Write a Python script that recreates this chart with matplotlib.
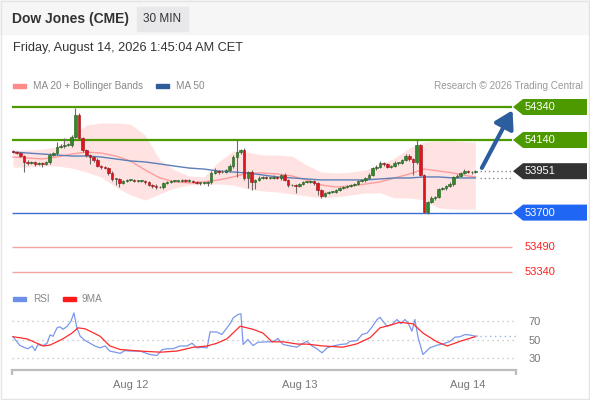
import matplotlib
matplotlib.use("Agg")
import matplotlib.pyplot as plt
from matplotlib.patches import Rectangle, Polygon, FancyArrowPatch

plt.rcParams['font.family'] = ['Liberation Sans', 'DejaVu Sans']

# --- data (30 min candles, Dow Jones CME) ---
first_open = 54073
closes = [
    54067, 54061, 54043, 54007, 54001, 54007, 53995, 54001, 53995, 54007,
    54049, 54061, 54098, 54104, 54110, 54110, 54158, 54292, 54152, 54079,
    54049, 54037, 54019, 53982, 53976, 53970, 53940, 53904, 53904, 53880,
    53892, 53898, 53898, 53892, 53892, 53892, 53886, 53867, 53861, 53855,
    53855, 53880, 53886, 53892, 53892, 53892, 53898, 53892, 53892, 53886,
    53880, 53880, 53880, 53886, 53940, 53952, 53946, 53946, 53958, 53982,
    54037, 54067, 54079, 53910, 53946, 53886, 53898, 53910, 53916, 53910,
    53910, 53916, 53910, 53928, 53898, 53867, 53867, 53861, 53873, 53886,
    53886, 53892, 53880, 53837, 53801, 53819, 53825, 53825, 53837, 53849,
    53855, 53861, 53867, 53873, 53892, 53898, 53910, 53928, 53970, 53976,
    54001, 53995, 53976, 53982, 54001, 54001, 54019, 54043, 54025, 54007,
    54110, 53928, 53704, 53764, 53789, 53795, 53843, 53849, 53861, 53873,
    53916, 53922, 53940, 53952, 53946, 53946, 53951,
]
wick_up = [
    8, 6, 8, 6, 10, 8, 6, 8, 6, 8,
    10, 8, 30, 12, 40, 10, 12, 42, 10, 8,
    8, 6, 8, 10, 6, 8, 8, 10, 6, 8,
    6, 8, 6, 8, 6, 8, 6, 8, 6, 10,
    6, 8, 6, 8, 6, 8, 6, 8, 10, 6,
    8, 6, 8, 6, 12, 20, 8, 12, 8, 10,
    10, 79, 8, 10, 8, 10, 8, 10, 6, 8,
    6, 10, 6, 8, 10, 6, 8, 6, 8, 6,
    8, 6, 8, 6, 8, 6, 8, 6, 8, 6,
    8, 6, 8, 6, 8, 6, 8, 10, 8, 12,
    10, 8, 8, 6, 10, 8, 8, 12, 10, 8,
    36, 8, 6, 8, 10, 6, 8, 6, 8, 10,
    8, 10, 8, 10, 8, 6, 6,
]
wick_dn = [
    8, 6, 8, 60, 12, 8, 10, 8, 20, 8,
    12, 8, 10, 8, 10, 8, 10, 8, 10, 12,
    10, 40, 12, 8, 10, 8, 10, 12, 36, 25,
    8, 6, 8, 6, 8, 6, 10, 8, 12, 10,
    8, 10, 6, 8, 6, 8, 6, 8, 6, 8,
    8, 10, 8, 20, 10, 8, 10, 8, 6, 10,
    12, 120, 10, 10, 60, 50, 40, 8, 6, 8,
    8, 6, 8, 10, 8, 10, 8, 40, 8, 6,
    8, 6, 10, 30, 10, 8, 6, 8, 6, 8,
    6, 8, 6, 8, 6, 8, 10, 6, 8, 10,
    8, 10, 8, 6, 8, 10, 8, 8, 10, 78,
    10, 8, 5, 10, 8, 10, 8, 8, 10, 8,
    10, 8, 8, 6, 8, 10, 6,
]

# indicators sampled every 4 candles
band_idx = [0, 4, 8, 12, 16, 20, 24, 28, 32, 36, 40, 44, 48, 52, 56, 60,
            64, 68, 72, 76, 80, 84, 88, 92, 96, 100, 104, 108, 112, 116,
            120, 124, 126]
bb_upper = [54079, 54079, 54085, 54098, 54170, 54231, 54243, 54243, 54237,
            54170, 54019, 53958, 53922, 53916, 54007, 54073, 54067, 54049,
            54049, 54043, 53988, 53946, 53940, 53946, 53958, 53988, 54031,
            54092, 54128, 54134, 54134, 54128, 54128]
bb_lower = [53976, 53976, 53982, 53982, 53970, 53946, 53916, 53855, 53807,
            53776, 53813, 53849, 53867, 53873, 53873, 53867, 53843, 53831,
            53825, 53813, 53801, 53789, 53795, 53807, 53819, 53819, 53789,
            53789, 53776, 53728, 53722, 53722, 53722]
ma20 = [54037, 54031, 54025, 54037, 54055, 54067, 54061, 54043, 54013, 53958,
        53910, 53886, 53880, 53886, 53898, 53916, 53940, 53940, 53934, 53922,
        53898, 53867, 53855, 53861, 53873, 53886, 53910, 53934, 53964, 53952,
        53940, 53922, 53916]
ma50 = [54067, 54061, 54055, 54049, 54043, 54043, 54037, 54025, 54013, 54007,
        53995, 53982, 53970, 53964, 53952, 53946, 53940, 53928, 53916, 53910,
        53904, 53898, 53898, 53898, 53898, 53904, 53910, 53910, 53916, 53916,
        53910, 53910, 53910]

resistances = [54340, 54140]
pivot = 53700
supports = [53490, 53340]
last_price = 53951

rsi_pts = [(0, 53), (1.9, 43.5), (3.3, 41), (4.1, 40), (5.2, 43), (6, 38),
           (6.8, 44.6), (8.2, 43.5), (9.3, 46), (10.1, 55), (10.9, 53.5),
           (12, 62.6), (12.8, 63.7), (13.6, 61), (14.7, 64), (15.8, 69.8),
           (16.6, 78.8), (17.4, 62.6), (18.3, 53.6), (19.6, 49), (21, 46),
           (22.3, 43), (23.7, 41), (25.1, 43), (26.4, 37.4), (27.8, 36.3),
           (29.2, 35), (30.5, 38), (31.9, 37.5), (34.6, 37.5), (36, 35.6),
           (37.3, 33.8), (39.2, 32.7), (40.6, 39), (42, 40), (43.6, 40),
           (45.5, 43), (47.4, 43), (48.8, 46), (50.1, 41), (51.5, 41.5),
           (52.9, 41), (53.7, 58.3), (55.6, 58), (56.9, 55.4), (58.3, 62.6),
           (59.3, 68), (60, 73.4), (61.3, 77), (62.1, 77.8), (62.7, 44.6),
           (64, 50), (65.4, 43.5), (66.8, 47), (69.2, 47.5), (70.8, 47.5),
           (72.2, 51), (73.6, 44.6), (75.5, 43), (77.4, 41.7), (78.7, 45.3),
           (80.1, 48), (81.5, 43), (82.8, 40), (84.2, 35.6), (85.6, 41),
           (87.2, 43), (89.1, 44.6), (91, 45.3), (91.8, 48), (93.7, 48.8),
           (95.1, 55.4), (96.5, 57), (97.8, 63.3), (99.2, 71.6), (100, 74),
           (100.8, 69.8), (101.9, 64.4), (103.3, 66.2), (104.6, 71.6),
           (105.7, 67), (106.8, 71.6), (107.6, 68), (108.7, 59), (109.5, 71.6),
           (110.4, 51.8), (111.7, 33.8), (113.6, 41), (115.5, 43.8),
           (117.2, 45.3), (119.1, 48), (120.4, 52.5), (121.8, 53),
           (123.2, 55.4), (124.5, 54.8), (126, 53.6)]
ma9_pts = [(0, 53), (3.8, 50.7), (8.2, 43), (10.1, 44), (13.6, 50.7),
           (16.1, 57), (17.7, 62.6), (19.6, 61.6), (21.5, 58), (23.7, 53.6),
           (26.4, 43), (29.2, 39.2), (34.6, 37.5), (40.1, 36.3), (44.7, 37.5),
           (49, 41.5), (52.9, 43), (55.6, 46), (58.3, 50.7), (61.9, 64.4),
           (65.4, 61), (68.1, 57), (70.6, 47.5), (73.6, 47.5), (77.6, 45),
           (80.1, 45), (84.5, 43), (89.9, 41.7), (93.7, 45.3), (97.3, 52),
           (100, 62.6), (102.7, 65.4), (105.4, 68.6), (109, 67), (111.7, 57),
           (115.5, 47.5), (118.3, 43), (121.8, 48), (126.4, 53.6)]

day_ticks = [32, 78, 124]
day_labels = ['Aug 12', 'Aug 13', 'Aug 14']
rsi_levels = [70, 50, 30]

# --- layout helpers (pixels of a 590x400 picture) ---
W, H = 590, 400
def fx(x): return x / W
def fy(y): return 1 - y / H

fig = plt.figure(figsize=(5.9, 4.0), dpi=100)
fig.patch.set_facecolor('white')
fig.patches.append(Rectangle((0, fy(34)), 1, 34 / H, transform=fig.transFigure,
                             color='#f6f6f6', zorder=0))
fig.patches.append(Rectangle((0.001, 0.002), 0.997, 0.996, transform=fig.transFigure,
                             fill=False, edgecolor='#e4e4e4', lw=1, zorder=0))
fig.patches.append(Rectangle((fx(137), fy(31)), fx(51), 24 / H, transform=fig.transFigure,
                             color='#e8e8ea', zorder=1))

fig.text(fx(12), fy(19), 'Dow Jones (CME)', fontsize=10, fontweight='bold',
         color='#333333', va='center')
fig.text(fx(162.5), fy(19), '30 MIN', fontsize=8.5, color='#333333',
         ha='center', va='center')
fig.text(fx(13), fy(48), 'Friday, August 14, 2026 1:45:04 AM CET', fontsize=9.2,
         color='#333333', va='center')

# legends
fig.patches.append(Rectangle((fx(13), fy(88)), fx(13), 4 / H, transform=fig.transFigure,
                             color='#ff8a8a'))
fig.text(fx(33), fy(86), 'MA 20 + Bollinger Bands', fontsize=7.2, color='#888888', va='center')
fig.patches.append(Rectangle((fx(156), fy(88)), fx(13), 4 / H, transform=fig.transFigure,
                             color='#2f5d9a'))
fig.text(fx(176), fy(86), 'MA 50', fontsize=7.2, color='#888888', va='center')
fig.text(fx(583), fy(86), 'Research \u00a9 2026 Trading Central', fontsize=7.2,
         color='#999999', va='center', ha='right')

fig.patches.append(Rectangle((fx(13), fy(301)), fx(13), 4 / H, transform=fig.transFigure,
                             color='#6d8fe6'))
fig.text(fx(33), fy(299), 'RSI', fontsize=7.2, color='#888888', va='center')
fig.patches.append(Rectangle((fx(63), fy(301)), fx(13), 4 / H, transform=fig.transFigure,
                             color='#ff1a1a'))
fig.text(fx(82), fy(299), '9MA', fontsize=7.2, color='#888888', va='center')

# --- price panel ---
step = 3.67          # pixels per candle
x0 = 13              # pixel of first candle
xl = ((12 - x0) / step, (516 - x0) / step)
line_end = (512 - x0) / step
ppp = 1 / 0.165      # price points per pixel
top_price = resistances[0] + (107 - 95) * ppp
bot_price = resistances[0] - (282 - 107) * ppp

ax = fig.add_axes([fx(12), fy(282), fx(504), (282 - 95) / H])
ax.set_xlim(*xl)
ax.set_ylim(bot_price, top_price)
ax.axis('off')

ax.fill_between(band_idx, bb_lower, bb_upper, color='#ffe3e3', lw=0, zorder=1)
ax.plot(band_idx, ma20, color='#ff9c9c', lw=1, zorder=2)
ax.plot(band_idx, ma50, color='#5b7fb8', lw=1, zorder=2)

for lv in resistances:
    ax.hlines(lv, xl[0], line_end, color='#4c9a00', lw=1.6, zorder=1)
ax.hlines(pivot, xl[0], line_end, color='#3a6fd8', lw=1, zorder=1)
for lv in supports:
    ax.hlines(lv, xl[0], line_end, color='#f5a3a3', lw=1, zorder=1)

opens = [first_open] + closes[:-1]
for i, (o, c) in enumerate(zip(opens, closes)):
    hi = max(o, c) + wick_up[i]
    lo = min(o, c) - wick_dn[i]
    ax.vlines(i, lo, hi, color='#6a6a6a', lw=0.8, zorder=3)
    up = c >= o
    body = max(abs(c - o), 3)
    ax.add_patch(Rectangle((i - 0.34, min(o, c)), 0.68, body,
                           facecolor='#2f8a2a' if up else '#e0141c',
                           edgecolor='#1f5a1c' if up else '#9a1015',
                           lw=0.4, zorder=4))

n = len(closes)
ax.hlines([last_price, ma50[-1]], n + 0.2, line_end, color='#8a8a8a', lw=1,
          linestyles=(0, (1, 2)), zorder=2)
ax.add_patch(FancyArrowPatch((n + 0.4, last_price + 5), (line_end + 0.5, resistances[0] - 5),
                             arrowstyle='-|>,head_width=0.45,head_length=0.75',
                             mutation_scale=14, color='#2c5e9e', lw=3, zorder=5,
                             clip_on=False))

# price tags
tag = fig.add_axes([fx(513), fy(282), fx(77), (282 - 95) / H], sharey=ax)
tag.set_xlim(0, 77)
tag.axis('off')
hh = 8 * ppp
tag_items = [(resistances[0], '#4c9a00'), (resistances[1], '#4c9a00'),
             (last_price, '#333333'), (pivot, '#1f66f5')]
for val, col in tag_items:
    tag.add_patch(Polygon([(0, val), (10, val + hh), (74, val + hh),
                           (74, val - hh), (10, val - hh)], closed=True,
                          facecolor=col, edgecolor='none'))
    tag.text(12, val, str(val), color='white', fontsize=8, va='center', ha='left')
for val in supports:
    tag.text(12, val, str(val), color='#ff2020', fontsize=8, va='center', ha='left')

# --- RSI panel ---
r_top = rsi_levels[0] + (321 - 305) / 0.925
r_bot = rsi_levels[2] - (370 - 358) / 0.925
ar = fig.add_axes([fx(12), fy(370), fx(504), (370 - 305) / H])
ar.set_xlim(*xl)
ar.set_ylim(r_bot, r_top)
for s in ['top', 'left', 'right']:
    ar.spines[s].set_visible(False)
ar.spines['bottom'].set_color('#bdbdbd')
ar.spines['bottom'].set_linewidth(1.6)
ar.hlines(rsi_levels, xl[0], xl[1], color='#bdbdbd', lw=0.9, linestyles=(0, (1, 3)))
ar.plot([p[0] for p in rsi_pts], [p[1] for p in rsi_pts], color='#7a98ea', lw=0.9)
ar.plot([p[0] for p in ma9_pts], [p[1] for p in ma9_pts], color='#ff2a2a', lw=0.9)
ar.hlines(rsi_pts[-1][1], rsi_pts[-1][0], xl[1], color='#9fb2e8', lw=1,
          linestyles=(0, (1, 2.5)))
tr = ar.get_xaxis_transform()
for xe in xl:
    ar.plot([xe, xe], [0, -0.08], transform=tr, color='#bdbdbd', lw=1.6,
            clip_on=False, solid_capstyle='butt')
ar.set_xticks(day_ticks)
ar.set_xticklabels(day_labels)
ar.yaxis.set_ticks_position('right')
ar.set_yticks(rsi_levels)
ar.tick_params(axis='both', length=0, labelsize=8, colors='#777777')
ar.tick_params(axis='x', pad=7)
ar.tick_params(axis='y', pad=9)
ar.set_facecolor('none')

fig.savefig('out.png', dpi=100)
